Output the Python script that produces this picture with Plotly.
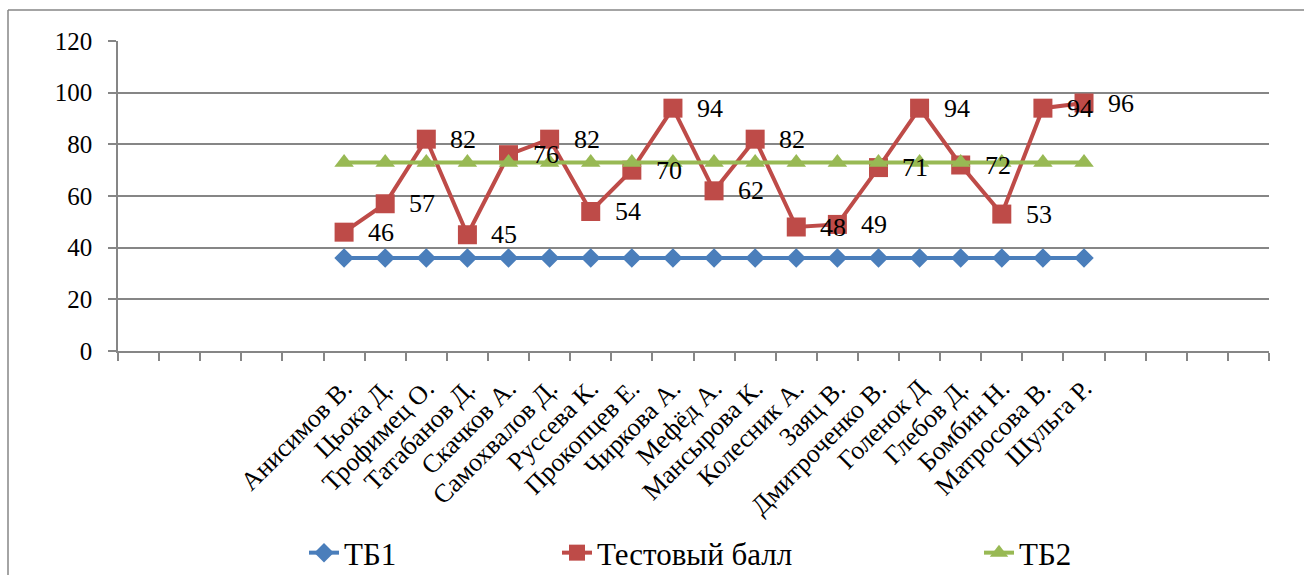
import plotly.graph_objects as go

# Students (category axis) and scores
students = [
    "Анисимов В.", "Цьока Д.", "Трофимец О.", "Татабанов Д.", "Скачков А.",
    "Самохвалов Д.", "Руссева К.", "Прокопцев Е.", "Чиркова А.", "Мефёд А.",
    "Мансырова К.", "Колесник А.", "Заяц В.", "Дмитроченко В.", "Голенок Д",
    "Глебов Д.", "Бомбин Н.", "Матросова В.", "Шульга Р.",
]
tb1 = [36] * len(students)
test_score = [46, 57, 82, 45, 76, 82, 54, 70, 94, 62, 82, 48, 49, 71, 94, 72, 53, 94, 96]
tb2 = [73] * len(students)

# Empty category slots on each side of the data (category axis)
empty_before = 5
empty_after = 4

y_ticks = [0, 20, 40, 60, 80, 100, 120]

FONT = "Liberation Serif"
BLUE = "#4A7EBB"
RED = "#BE4B48"
GREEN = "#98B954"
GRID = "#868686"

W, H = 1304, 575
L, R, T, B = 118, 35, 41, 224
pw, ph = W - L - R, H - T - B

def px_x(px):
    return (px - L) / pw

def px_y(py):
    return (H - B - py) / ph

xs = list(range(len(students)))

fig = go.Figure()
fig.add_trace(go.Scatter(
    x=xs, y=tb1, name="ТБ1", mode="lines+markers",
    line=dict(color=BLUE, width=4),
    marker=dict(symbol="diamond", size=15, color=BLUE),
    legend="legend",
))
fig.add_trace(go.Scatter(
    x=xs, y=test_score, name="Тестовый балл", mode="lines+markers",
    line=dict(color=RED, width=4),
    marker=dict(symbol="square", size=19, color=RED),
    legend="legend2",
))
fig.add_trace(go.Scatter(
    x=xs, y=tb2, name="ТБ2", mode="lines+markers",
    line=dict(color=GREEN, width=4),
    marker=dict(symbol="triangle-up", size=17, color=GREEN),
    legend="legend3",
))

# Value labels for the test score series
for x, v in zip(xs, test_score):
    fig.add_annotation(
        x=x, y=v, text=str(v), showarrow=False,
        xanchor="left", yanchor="middle", xshift=22,
        font=dict(family=FONT, size=26, color="#000000"),
    )

# Chart frame (top and left edges)
fig.add_shape(type="line", xref="paper", yref="paper",
              x0=px_x(8), x1=px_x(W + 5), y0=px_y(10), y1=px_y(10),
              line=dict(color=GRID, width=1.5))
fig.add_shape(type="line", xref="paper", yref="paper",
              x0=px_x(8), x1=px_x(8), y0=px_y(10), y1=px_y(H + 5),
              line=dict(color=GRID, width=1.5))

legend_common = dict(
    orientation="h", yanchor="middle", xanchor="left",
    font=dict(family=FONT, size=31, color="#000000"),
    bgcolor="rgba(0,0,0,0)", itemwidth=30,
)

fig.update_layout(
    width=W, height=H,
    margin=dict(l=L, r=R, t=T, b=B, pad=0, autoexpand=False),
    paper_bgcolor="white", plot_bgcolor="white",
    font=dict(family=FONT, size=24, color="#000000"),
    showlegend=True,
    xaxis=dict(
        range=[-0.5 - empty_before, len(students) - 0.5 + empty_after],
        tickmode="array", tickvals=xs, ticktext=students,
        tickangle=-45, ticks="", showgrid=False, zeroline=False,
        showline=True, linecolor=GRID, linewidth=1.5,
        tickfont=dict(family=FONT, size=26, color="#000000"),
        ticklabelstandoff=10,
        minor=dict(tick0=0.5, dtick=1, ticks="outside", ticklen=8,
                   tickcolor=GRID, tickwidth=1.5, showgrid=False),
    ),
    yaxis=dict(
        range=[0, 120], tickvals=y_ticks, ticks="outside", ticklen=8,
        tickcolor=GRID, tickwidth=1.5,
        showgrid=True, gridcolor=GRID, gridwidth=1.5, zeroline=False,
        showline=True, linecolor=GRID, linewidth=1.5,
        tickfont=dict(family=FONT, size=25, color="#000000"),
        ticklabelstandoff=11,
    ),
    legend=dict(x=px_x(304), y=px_y(553), **legend_common),
    legend2=dict(x=px_x(557), y=px_y(553), **legend_common),
    legend3=dict(x=px_x(979), y=px_y(553), **legend_common),
)

fig.write_html("out.html")
